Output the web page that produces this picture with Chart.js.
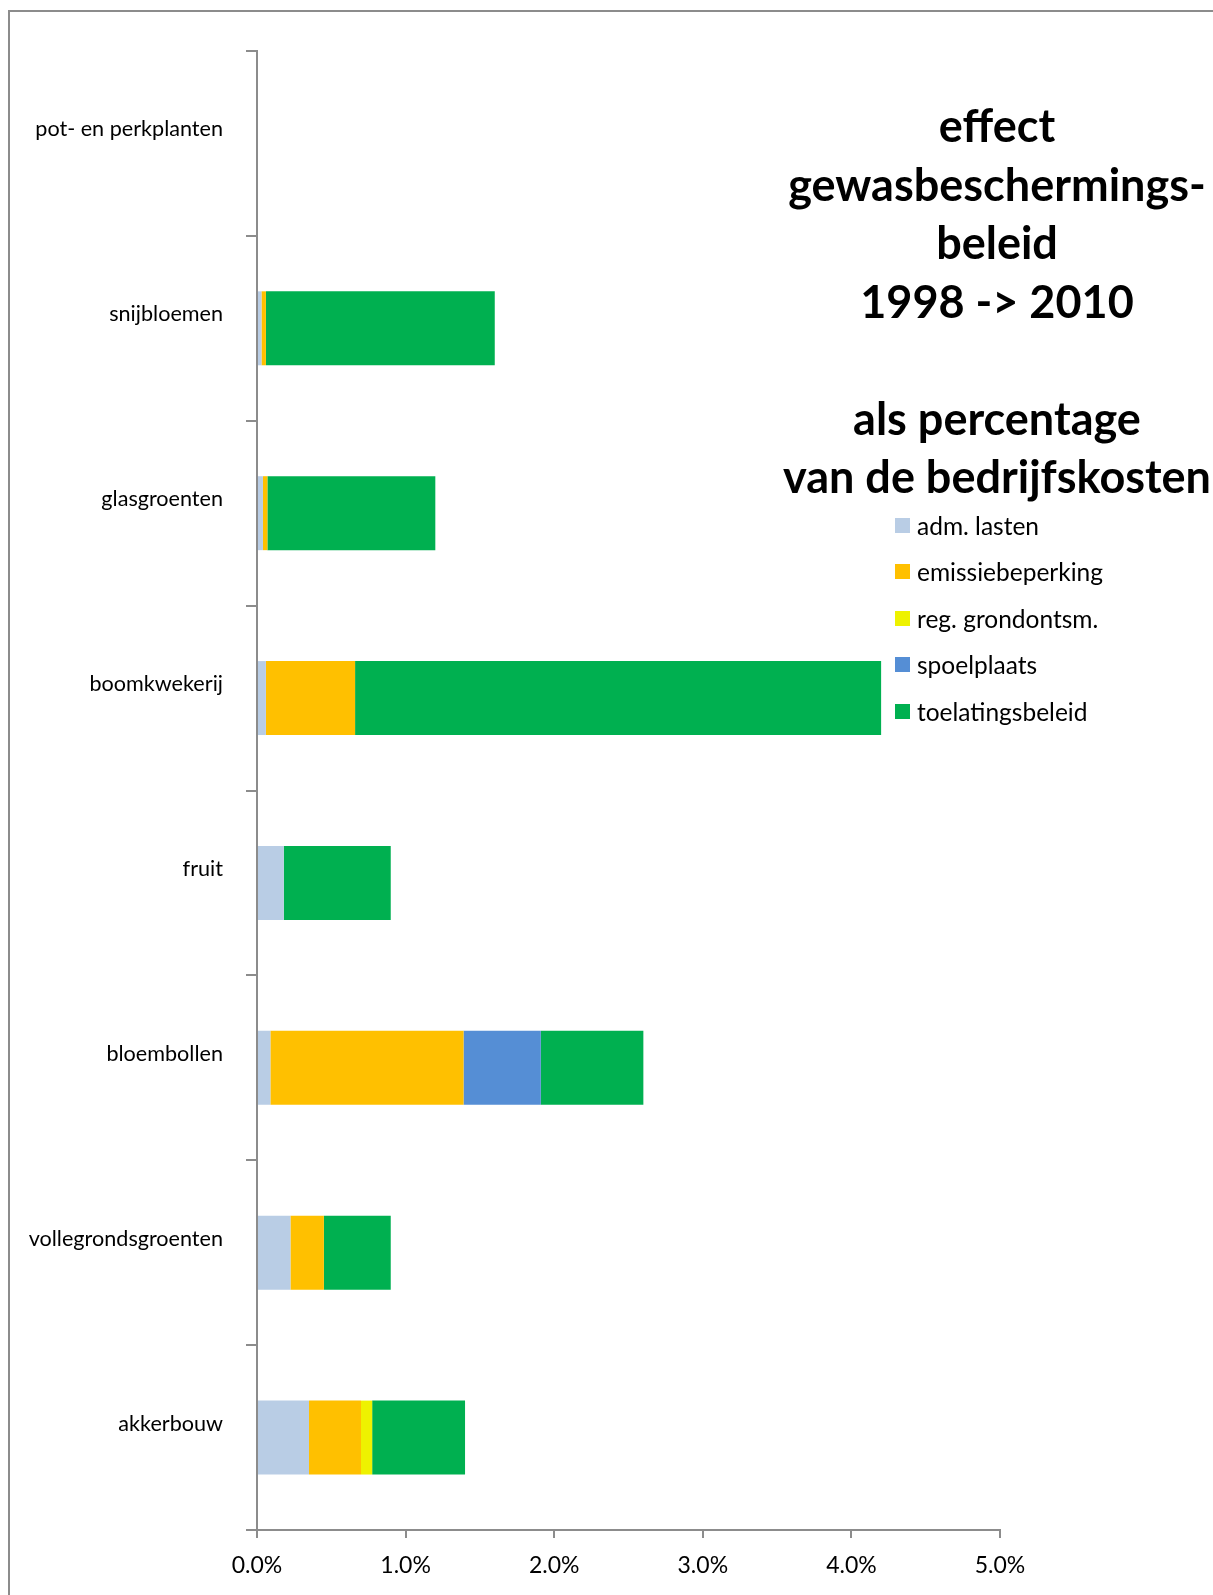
<!DOCTYPE html>
<html lang="nl">
<head>
<meta charset="utf-8">
<title>effect gewasbeschermingsbeleid 1998 -> 2010</title>
<script src="https://cdn.jsdelivr.net/npm/chart.js@4/dist/chart.umd.min.js"></script>
<style>
    html, body { margin: 0; padding: 0; background: #fff; overflow: hidden; }
    #wrap { position: relative; width: 1213px; height: 1595px; }
    #frame {
        position: absolute; left: 8px; top: 10px; width: 1300px; height: 1700px;
        border-left: 2px solid #8c8c8c; border-top: 2px solid #8c8c8c;
    }
    #chart { position: absolute; left: 0; top: 0; }
    #title {
        position: absolute; left: 757px; width: 480px; top: 96px;
        text-align: center; font-family: Lato, sans-serif; font-weight: 700;
        font-size: 45px; line-height: 58.5px; color: #000;
    }
    #legend { position: absolute; left: 895px; top: 502px; font-family: Lato, sans-serif; }
    .item { height: 46.5px; display: flex; align-items: center; font-size: 24.5px; color: #000; }
    .swatch { width: 15px; height: 15px; margin-right: 7px; }
</style>
</head>
<body>
<div id="wrap">
    <div id="frame"></div>
    <canvas id="chart" width="1213" height="1595"></canvas>
    <div id="title">effect<br>gewasbeschermings-<br>beleid<br>1998 -&gt; 2010<br>&nbsp;<br>als percentage<br>van de bedrijfskosten</div>
    <div id="legend"></div>
</div>
<script>
// sectors, top to bottom
const sectors = ['pot- en perkplanten', 'snijbloemen', 'glasgroenten', 'boomkwekerij',
    'fruit', 'bloembollen', 'vollegrondsgroenten', 'akkerbouw'];

// cost share per policy component (% of business costs)
const admLasten        = [0, 0.03, 0.04, 0.06, 0.18, 0.09, 0.225, 0.35];
const emissiebeperking = [0, 0.03, 0.03, 0.60, 0,    1.30, 0.225, 0.35];
const regGrondontsm    = [0, 0,    0,    0,    0,    0,    0,     0.075];
const spoelplaats      = [0, 0,    0,    0,    0,    0.52, 0,     0];
const toelatingsbeleid = [0, 1.54, 1.13, 3.54, 0.72, 0.69, 0.45,  0.625];

const xTicks = [0, 1, 2, 3, 4, 5];

const axisGrey = '#8c8c8c';

const datasets = [
    { label: 'adm. lasten',       data: admLasten,        backgroundColor: '#B9CDE5' },
    { label: 'emissiebeperking',  data: emissiebeperking, backgroundColor: '#FFC000' },
    { label: 'reg. grondontsm.',  data: regGrondontsm,    backgroundColor: '#EEF200' },
    { label: 'spoelplaats',       data: spoelplaats,      backgroundColor: '#558ED5' },
    { label: 'toelatingsbeleid',  data: toelatingsbeleid, backgroundColor: '#00B050' }
].map(ds => Object.assign(ds, { categoryPercentage: 0.8, barPercentage: 0.5, borderWidth: 0 }));

const chart = new Chart(document.getElementById('chart'), {
    type: 'bar',
    data: { labels: sectors, datasets: datasets },
    options: {
        indexAxis: 'y',
        responsive: false,
        animation: false,
        layout: { padding: { top: 51, right: 213, left: 0, bottom: 0 } },
        plugins: { legend: { display: false }, tooltip: { enabled: false }, title: { display: false } },
        scales: {
            x: {
                stacked: true,
                min: 0,
                max: 5,
                afterBuildTicks: scale => { scale.ticks = xTicks.map(v => ({ value: v })); },
                afterFit: scale => { scale.height = 65; },
                border: { color: axisGrey, width: 2 },
                grid: { drawOnChartArea: false, drawTicks: true, tickLength: 8, color: axisGrey, lineWidth: 2 },
                ticks: {
                    padding: 14,
                    color: '#000',
                    font: { family: 'Lato', size: 23 },
                    callback: v => Number(v).toFixed(1) + '%'
                }
            },
            y: {
                stacked: true,
                afterFit: scale => { scale.width = 257; },
                border: { color: axisGrey, width: 2 },
                grid: { drawOnChartArea: false, drawTicks: true, tickLength: 11, color: axisGrey, lineWidth: 2, offset: true },
                ticks: {
                    padding: 23,
                    labelOffset: -14,
                    color: '#000',
                    font: { family: 'Lato', size: 21.6 }
                }
            }
        }
    }
});

// legend built from the chart's own datasets
const legend = document.getElementById('legend');
chart.data.datasets.forEach(ds => {
    const row = document.createElement('div');
    row.className = 'item';
    row.innerHTML = `<span class="swatch" style="background:${ds.backgroundColor}"></span><span>${ds.label}</span>`;
    legend.appendChild(row);
});
</script>
</body>
</html>
